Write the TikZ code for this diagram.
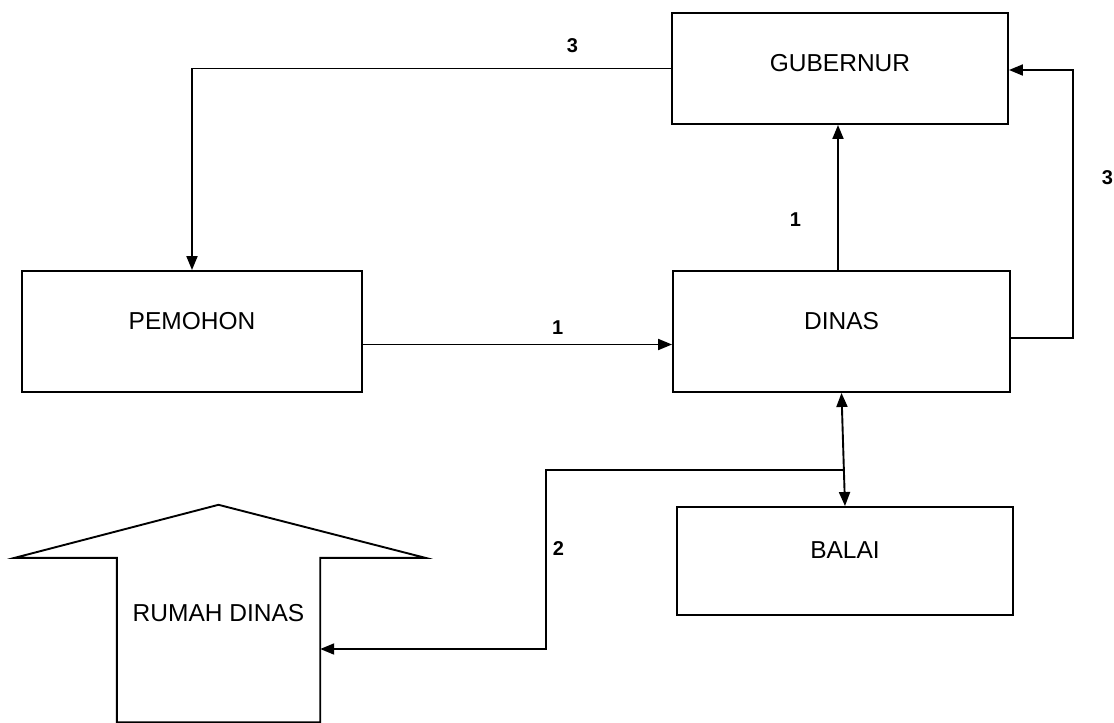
\documentclass[tikz,border=0pt]{standalone}
\usepackage{fontspec}
\setmainfont{Liberation Sans}
\usetikzlibrary{positioning,arrows.meta,calc}

\begin{document}
\begin{tikzpicture}[x=1pt, y=-1pt,
    every node/.style={font=\fontsize{24.5}{29}\selectfont, align=center},
    unitBox/.style={rectangle, draw=black, line width=1.9pt, text height=17pt, text depth=22pt, inner sep=0pt},
    flowLine/.style={draw=black, line width=1.9pt, -{Triangle[length=14pt,width=11pt]}},
    stepNum/.style={font=\fontsize{20}{24}\selectfont\bfseries, inner sep=0pt}
]
    \useasboundingbox (0,0) rectangle (1114,723);

    \node [unitBox, minimum width=336pt, minimum height=111pt, text depth=11pt] (gub) at (840,68.5) {GUBERNUR};
    \node [unitBox, minimum width=340pt, minimum height=121pt] (pem) at (192,331.5) {PEMOHON};
    \node [unitBox, minimum width=337pt, minimum height=121pt] (din) at (841.5,331.5) {DINAS};
    \node [unitBox, minimum width=336pt, minimum height=108pt] (bal) at (845,561) {BALAI};
    \node [minimum width=203pt, minimum height=164pt, text height=17pt, text depth=54pt, inner sep=0pt] (rumah) at (218.5,640) {RUMAH DINAS};

    \draw [line width=1.9pt] (rumah.south west) -- (rumah.north west) -- ++(-102,0)
        -- ($(rumah.north)+(0,-53)$) -- ($(rumah.north east)+(105,0)$) -- (rumah.north east)
        -- (rumah.south east) -- cycle;

    \path [flowLine] (gub.west) -| node [stepNum, pos=0.103, above=15pt] {3} (pem.north);
    \path [flowLine] ([yshift=-13pt]pem.east) -- node [stepNum, pos=0.63, above=9pt] {1} ([yshift=-13pt]din.west);
    \path [flowLine] ([xshift=-3.5pt]din.north) -- node [stepNum, pos=0.35, left=36pt] {1} ([xshift=-3.5pt]din.north |- gub.south);
    \path [flowLine] ([yshift=-6.5pt]din.east) -- ++(62,0) |- node [stepNum, pos=0.3, right=28pt] {3} ([yshift=-1.5pt]gub.east);
    \path [flowLine, {Triangle[length=14pt,width=11pt]}-{Triangle[length=14pt,width=11pt]}] (din.south) -- coordinate [pos=0.68] (junc) (bal.north);
    \path [flowLine] (junc) -- ++(-298,0) |- node [stepNum, pos=0.22, right=6pt] {2} (rumah.east |- 0,649);
\end{tikzpicture}
\end{document}
